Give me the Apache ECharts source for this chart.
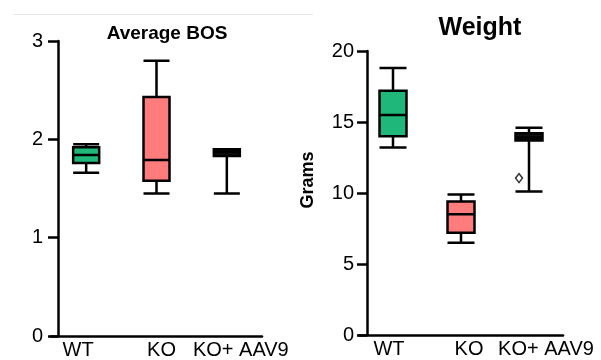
<!DOCTYPE html>
<html>
<head>
<meta charset="utf-8">
<script src="https://cdn.jsdelivr.net/npm/echarts@6/dist/echarts.min.js"></script>
<style>html,body{margin:0;padding:0;background:#fff;}#c{width:601px;height:360px;}</style>
</head>
<body>
<div id="c"></div>
<script>
const categories = ['WT', 'KO', 'KO+ AAV9'];
// [min, Q1, median, Q3, max]
const bosValues = [
  [1.66, 1.76, 1.84, 1.92, 1.95],
  [1.45, 1.58, 1.79, 2.43, 2.80],
  [1.45, 1.83, 1.87, 1.90, 1.90]
];
const weightValues = [
  [13.2, 14.0, 15.5, 17.2, 18.8],
  [6.5, 7.2, 8.5, 9.4, 9.9],
  [10.1, 13.7, 13.9, 14.2, 14.6]
];
const weightOutliers = [['KO+ AAV9', 11.05]];
const boxColors = ['#1fb87a', '#ff7c7c', '#111111'];

const FONT = 'Liberation Sans, Arial, sans-serif';

function richLabels(pads) {
  const rich = {};
  pads.forEach((p, i) => {
    rich['s' + i] = { fontSize: 20, color: '#000', fontFamily: FONT, padding: p };
  });
  return rich;
}

function boxData(vals) {
  return vals.map((v, i) => ({
    value: v,
    itemStyle: { color: boxColors[i], borderColor: '#000', borderWidth: 2.5 }
  }));
}

const axisLineStyle = { color: '#000', width: 2.5 };

const chart = echarts.init(document.getElementById('c'));
chart.setOption({
  animation: false,
  backgroundColor: '#fff',
  graphic: [{
    type: 'line', shape: { x1: 13, y1: 14.5, x2: 313, y2: 14.5 },
    style: { stroke: '#e8e8e8', lineWidth: 1 }
  }],
  title: [
    { text: 'Average BOS', left: 162, top: 19, textAlign: 'center',
      textStyle: { fontSize: 19, fontWeight: 'bold', color: '#000', fontFamily: FONT } },
    { text: 'Weight', left: 475, top: 11, textAlign: 'center',
      textStyle: { fontSize: 25, fontWeight: 'bold', color: '#000', fontFamily: FONT } }
  ],
  grid: [
    { left: 51, width: 211, top: 41, height: 295 },
    { left: 359, width: 204, top: 51, height: 284 }
  ],
  xAxis: [
    { type: 'category', data: categories, gridIndex: 0,
      axisLine: { lineStyle: axisLineStyle }, axisTick: { show: false },
      axisLabel: { interval: 0, margin: 4,
        formatter: (v, i) => '{s' + i + '|' + v + '}',
        rich: richLabels([[0, 16, 0, 0], [0, 0, 0, 10], [0, 0, 0, 28]]) } },
    { type: 'category', data: categories, gridIndex: 1,
      axisLine: { lineStyle: axisLineStyle }, axisTick: { show: false },
      axisLabel: { interval: 0, margin: 4,
        formatter: (v, i) => '{s' + i + '|' + v + '}',
        rich: richLabels([[0, 8, 0, 0], [0, 0, 0, 16], [0, 0, 0, 34]]) } }
  ],
  yAxis: [
    { type: 'value', gridIndex: 0, min: 0, max: 3, interval: 1, offset: -7,
      axisLine: { show: true, lineStyle: axisLineStyle },
      axisTick: { show: true, length: 10, lineStyle: { color: '#000', width: 2.5 } },
      axisLabel: { fontSize: 20, color: '#000', fontFamily: FONT, margin: 15 },
      splitLine: { show: false } },
    { type: 'value', gridIndex: 1, min: 0, max: 20, interval: 5, offset: -8,
      name: 'Grams', nameLocation: 'middle', nameGap: 50,
      nameTextStyle: { fontSize: 18, fontWeight: 'bold', color: '#000', fontFamily: FONT,
        padding: [0, 0, 0, 26] },
      axisLine: { show: true, lineStyle: axisLineStyle },
      axisTick: { show: true, length: 10, lineStyle: { color: '#000', width: 2.5 } },
      axisLabel: { fontSize: 20, color: '#000', fontFamily: FONT, margin: 13 },
      splitLine: { show: false } }
  ],
  series: [
    { type: 'boxplot', xAxisIndex: 0, yAxisIndex: 0, boxWidth: [26, 26],
      data: boxData(bosValues), emphasis: { disabled: true } },
    { type: 'boxplot', xAxisIndex: 1, yAxisIndex: 1, boxWidth: [27, 27],
      data: boxData(weightValues), emphasis: { disabled: true } },
    { type: 'scatter', xAxisIndex: 1, yAxisIndex: 1, data: weightOutliers,
      symbol: 'diamond', symbolSize: [7, 9], symbolOffset: [-10, 0],
      itemStyle: { color: '#fff', borderColor: '#000', borderWidth: 1.5 },
      emphasis: { disabled: true } }
  ]
});
</script>
</body>
</html>
